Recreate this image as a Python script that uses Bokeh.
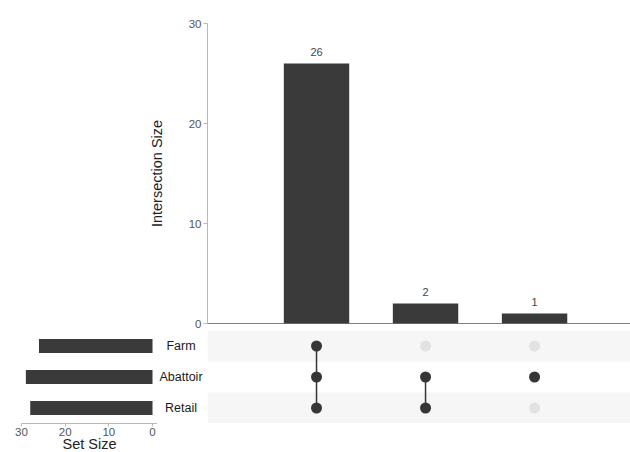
from bokeh.plotting import figure
from bokeh.layouts import column, row
from bokeh.models import Range1d, FactorRange, Span, ColumnDataSource, FixedTicker
from bokeh.core.properties import value
from bokeh.embed import file_html
from bokeh.resources import INLINE

# ---- data ----
sets = ["Farm", "Abattoir", "Retail"]
set_sizes = [26, 29, 28]
intersection_sizes = [26, 2, 1]
intersection_members = [["Farm", "Abattoir", "Retail"], ["Abattoir", "Retail"], ["Abattoir"]]
size_ticks = [0, 10, 20, 30]

FONT = "Liberation Sans"
BAR = "#3a3a3a"
DOT_ON = "#363636"
DOT_OFF = "#e2e2e2"
SHADE = "#f6f6f6"
AXIS_GRAY = "#b8b8b8"
TICK_TEXT = "#555555"
MAT_H = 93

n = len(intersection_sizes)
xs = list(range(1, n + 1))
x_range = Range1d(0, n + 0.88)
y_factors = FactorRange(factors=list(reversed(sets)))

# ---- top: intersection size bars ----
top = figure(width=630, height=330, x_range=x_range, y_range=Range1d(0, 30),
             output_backend="svg", toolbar_location=None,
             min_border_left=207, min_border_right=0, min_border_top=23, min_border_bottom=7)
src = ColumnDataSource(dict(x=xs, top=intersection_sizes, label=[str(v) for v in intersection_sizes]))
top.vbar(x="x", top="top", width=0.6, source=src, fill_color=BAR, line_color=None)
top.text(x="x", y="top", text="label", source=src, y_offset=-8, text_align="center",
         text_baseline="bottom", text_font=value(FONT), text_font_size="11px", text_color="#444444")
top.xaxis.visible = False
top.yaxis.ticker = FixedTicker(ticks=size_ticks)
top.yaxis.axis_label = "Intersection Size"
top.yaxis.axis_label_text_font = FONT
top.yaxis.axis_label_text_font_style = "normal"
top.yaxis.axis_label_text_font_size = "14.5px"
top.yaxis.axis_label_text_color = "#222222"
top.yaxis.axis_label_standoff = 21
top.yaxis.major_label_text_font = FONT
top.yaxis.major_label_text_font_size = "11.5px"
top.yaxis.major_label_text_color = TICK_TEXT
top.yaxis.major_label_standoff = 2
top.yaxis.axis_line_color = AXIS_GRAY
top.yaxis.major_tick_line_color = AXIS_GRAY
top.yaxis.major_tick_out = 4
top.yaxis.major_tick_in = 0
top.yaxis.minor_tick_line_color = None
top.grid.visible = False
top.outline_line_color = None
top.add_layout(Span(location=0, dimension="width", line_color="black", line_width=1))

# ---- matrix ----
mat = figure(frame_width=423, frame_height=MAT_H, x_range=x_range, y_range=y_factors,
             output_backend="svg", toolbar_location=None,
             min_border_left=0, min_border_right=0, min_border_top=0, min_border_bottom=0)
shade_rows = [s for i, s in enumerate(sets) if i % 2 == 0]
mat.hbar(y=shade_rows, left=x_range.start, right=x_range.end, height=1.0,
         fill_color=SHADE, line_color=None)
dx, dy, dc = [], [], []
for x, members in zip(xs, intersection_members):
    for s in sets:
        dx.append(x)
        dy.append(s)
        dc.append(DOT_ON if s in members else DOT_OFF)
sx0, sy0, sy1 = [], [], []
for x, members in zip(xs, intersection_members):
    idx = sorted(sets.index(m) for m in members)
    if len(idx) > 1:
        sx0.append(x)
        sy0.append(sets[idx[0]])
        sy1.append(sets[idx[-1]])
mat.segment(x0=sx0, y0=sy0, x1=sx0, y1=sy1, line_color=DOT_ON, line_width=1.5)
mat.scatter(x=dx, y=dy, size=11, fill_color=dc, line_color=None)
mat.axis.visible = False
mat.grid.visible = False
mat.outline_line_color = None

# ---- set labels ----
lab = figure(frame_width=50, frame_height=MAT_H, x_range=Range1d(0, 1), y_range=y_factors,
             output_backend="svg", toolbar_location=None,
             min_border_left=0, min_border_right=0, min_border_top=0, min_border_bottom=0)
lab.text(x=[0.5] * len(sets), y=sets, text=sets, x_offset=-1.5, text_align="center",
         text_baseline="middle", text_font=value(FONT), text_font_size="12.5px",
         text_color="#1a1a1a")
lab.axis.visible = False
lab.grid.visible = False
lab.outline_line_color = None

# ---- set size bars ----
left = figure(frame_width=136, frame_height=MAT_H, x_range=Range1d(30, -1.14), y_range=y_factors,
              output_backend="svg", toolbar_location=None,
              min_border_left=21, min_border_right=0, min_border_top=0, min_border_bottom=0)
left.hbar(y=sets, left=0, right=set_sizes, height=0.45, fill_color=BAR, line_color=None)
left.yaxis.visible = False
left.xaxis.ticker = FixedTicker(ticks=size_ticks)
left.xaxis.axis_label = "Set Size"
left.xaxis.axis_label_text_font = FONT
left.xaxis.axis_label_text_font_style = "normal"
left.xaxis.axis_label_text_font_size = "14.5px"
left.xaxis.axis_label_text_color = "#222222"
left.xaxis.axis_label_standoff = -3
left.xaxis.major_label_text_font = FONT
left.xaxis.major_label_text_font_size = "11.5px"
left.xaxis.major_label_text_color = TICK_TEXT
left.xaxis.major_label_standoff = 1
left.xaxis.axis_line_color = AXIS_GRAY
left.xaxis.major_tick_line_color = AXIS_GRAY
left.xaxis.major_tick_out = 3
left.xaxis.major_tick_in = 0
left.xaxis.minor_tick_line_color = None
left.grid.visible = False
left.outline_line_color = None

layout = column(top, row(left, lab, mat))
open("out.html", "w").write(file_html(layout, INLINE))
